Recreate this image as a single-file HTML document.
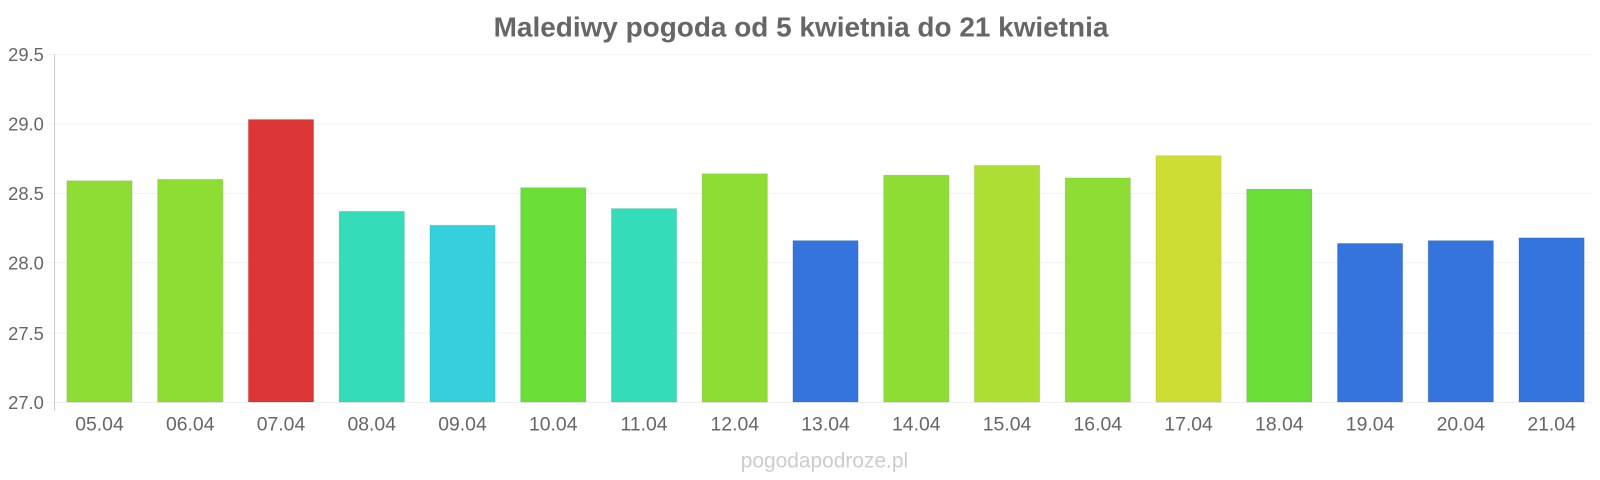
<!DOCTYPE html>
<html><head><meta charset="utf-8"><style>
html,body{margin:0;padding:0;background:#fff;}
svg{display:block;font-family:"Liberation Sans",sans-serif;}
</style></head><body>
<svg width="1600" height="480" viewBox="0 0 1568 470.4" xmlns="http://www.w3.org/2000/svg">
<text x="785" y="36" text-anchor="middle" font-size="27.4" font-weight="bold" fill="#666">Malediwy pogoda od 5 kwietnia do 21 kwietnia</text>
<g stroke="#f0f0f0" stroke-width="1">
<line x1="46" y1="53.5" x2="1560" y2="53.5"/>
<line x1="46" y1="121.5" x2="1560" y2="121.5"/>
<line x1="46" y1="189.5" x2="1560" y2="189.5"/>
<line x1="46" y1="257.5" x2="1560" y2="257.5"/>
<line x1="46" y1="326.5" x2="1560" y2="326.5"/>
<line x1="46" y1="394.5" x2="1560" y2="394.5"/>
</g>
<line x1="53.5" y1="53" x2="53.5" y2="402" stroke="#ccc"/>
<g font-size="18" fill="#666" text-anchor="end">
<text x="43" y="60">29.5</text>
<text x="43" y="128">29.0</text>
<text x="43" y="196">28.5</text>
<text x="43" y="264">28.0</text>
<text x="43" y="333">27.5</text>
<text x="43" y="401">27.0</text>
</g>
<g id="bars"></g>
<g id="labels" font-size="19" fill="#666" text-anchor="middle"></g>
<text x="808" y="458" text-anchor="middle" font-size="20.5" fill="#ccc">pogodapodroze.pl</text>
</svg>
<script>
var v=[28.59,28.60,29.03,28.37,28.27,28.54,28.39,28.64,28.16,28.63,28.70,28.61,28.77,28.53,28.14,28.16,28.18];
var c=["#8ddd35","#8ddd35","#dc3636","#34dcb9","#35d0dc","#6ade37","#34dcb9","#8ddd35","#3474dc","#8ddd35","#acde34","#8ddd35","#cedd34","#6ade37","#3474dc","#3474dc","#3474dc"];
var d=["05.04","06.04","07.04","08.04","09.04","10.04","11.04","12.04","13.04","14.04","15.04","16.04","17.04","18.04","19.04","20.04","21.04"];
var b="",l="";
for(var i=0;i<17;i++){var x=65.5+i*88.94;var y=394-(v[i]-27)*136.4;
b+='<rect x="'+x+'" y="'+y+'" width="64" height="'+(394-y)+'" fill="'+c[i]+'" stroke="rgba(0,0,0,0.08)" stroke-width="1"/>';
l+='<text x="'+(x+32)+'" y="422">'+d[i]+'</text>';}
document.getElementById("bars").innerHTML=b;document.getElementById("labels").innerHTML=l;
</script>
</body></html>
